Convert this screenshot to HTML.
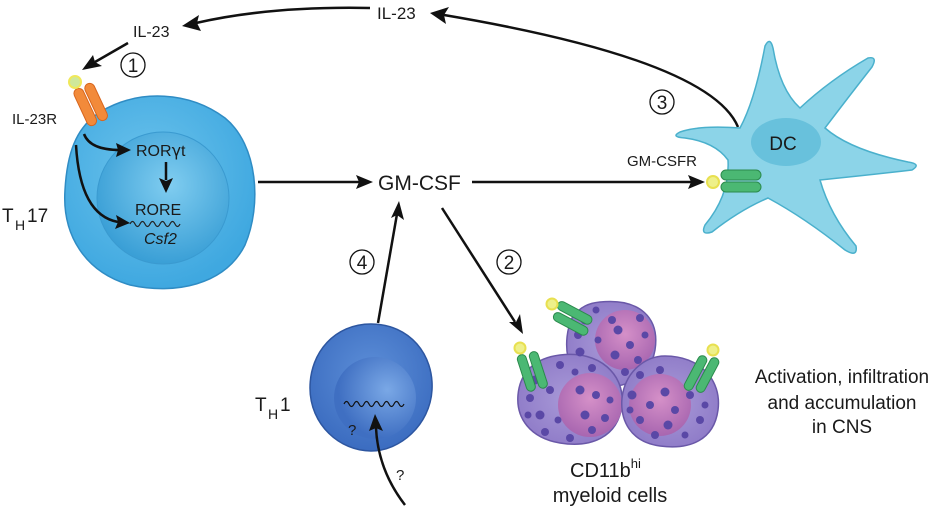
<!DOCTYPE html>
<html><head><meta charset="utf-8"><style>
body{margin:0;background:#fff}
svg{display:block}
text{font-family:"Liberation Sans",Arial,sans-serif;fill:#1a1a1a}
</style></head><body>
<svg width="946" height="510" viewBox="0 0 946 510" xmlns="http://www.w3.org/2000/svg">
<defs>
<radialGradient id="th17" cx="0.45" cy="0.4" r="0.6"><stop offset="0" stop-color="#6cc3ec"/><stop offset="1" stop-color="#3fa8e0"/></radialGradient>
<radialGradient id="th17n" cx="0.55" cy="0.4" r="0.6"><stop offset="0" stop-color="#80cdf0"/><stop offset="1" stop-color="#3a9fd6"/></radialGradient>
<radialGradient id="th1" cx="0.5" cy="0.4" r="0.6"><stop offset="0" stop-color="#5d8fd8"/><stop offset="1" stop-color="#3b6cc0"/></radialGradient>
<radialGradient id="th1n" cx="0.65" cy="0.4" r="0.6"><stop offset="0" stop-color="#7aa8e6"/><stop offset="1" stop-color="#3f6fc2"/></radialGradient>
<radialGradient id="my" cx="0.5" cy="0.5" r="0.6"><stop offset="0" stop-color="#a99ad8"/><stop offset="1" stop-color="#8c78c6"/></radialGradient>
<radialGradient id="myn" cx="0.5" cy="0.4" r="0.6"><stop offset="0" stop-color="#d590c8"/><stop offset="1" stop-color="#a866b0"/></radialGradient>
</defs>

<!-- TH17 cell -->
<path d="M100,112 C140,88 190,92 225,118 C258,145 262,205 245,245 C225,285 175,295 130,285 C85,272 62,235 65,190 C67,155 75,128 100,112Z" fill="url(#th17)" stroke="#2f8cc4" stroke-width="1.5"/>
<circle cx="163" cy="198" r="66" fill="url(#th17n)" stroke="#3a9ad0" stroke-width="1"/>
<g transform="rotate(-25 92 105)">
<rect x="80" y="84" width="10" height="40" rx="5" fill="#f28a3a" stroke="#d8651d"/>
<rect x="92" y="84" width="10" height="40" rx="5" fill="#f28a3a" stroke="#d8651d"/>
</g>
<circle cx="75" cy="82" r="6" fill="#cfe89a" stroke="#f0e85a" stroke-width="2"/>
<text x="12" y="124" font-size="15">IL-23R</text>
<text x="2" y="222" font-size="19">T</text><text x="15" y="230" font-size="14">H</text><text x="27" y="222" font-size="19">17</text>
<text x="136" y="156" font-size="16">ROR<tspan font-family="DejaVu Sans">γ</tspan>t</text>
<text x="135" y="215" font-size="16">RORE</text>
<path d="M130,224 q2.5,-5 5,0 q2.5,5 5,0 q2.5,-5 5,0 q2.5,5 5,0 q2.5,-5 5,0 q2.5,5 5,0 q2.5,-5 5,0 q2.5,5 5,0 q2.5,-5 5,0 q2.5,5 5,0" fill="none" stroke="#222" stroke-width="1.2"/>
<text x="144" y="244" font-size="16" font-style="italic">Csf2</text>
<path d="M84,134 Q90,150 120,150" fill="none" stroke="#111" stroke-width="2.5"/>
<path d="M131,150 L116,143 L118,150 L116,157Z" fill="#111"/>
<path d="M76,145 Q80,215 118,222" fill="none" stroke="#111" stroke-width="2.5"/>
<path d="M130,223 L116,215 L118,222 L115,229Z" fill="#111"/>
<line x1="166" y1="162" x2="166" y2="180" stroke="#111" stroke-width="2.5"/>
<path d="M166,193 L159,178 L166,181 L173,178Z" fill="#111"/>

<!-- top IL-23 arrows -->
<text x="377" y="19" font-size="17">IL-23</text>
<text x="133" y="37" font-size="16">IL-23</text>
<path d="M370,8 Q270,6 196,23" fill="none" stroke="#111" stroke-width="2.5"/>
<path d="M182,26 L199,15 L197,23 L201,31Z" fill="#111"/>
<path d="M738,127 Q710,60 444,15" fill="none" stroke="#111" stroke-width="2.5"/>
<path d="M430,13 L449,7 L444,15 L446,24Z" fill="#111"/>
<line x1="128" y1="43" x2="95" y2="62" stroke="#111" stroke-width="2.5"/>
<path d="M82,70 L93,55 L95,62 L102,66Z" fill="#111"/>
<circle cx="133" cy="65" r="12" fill="none" stroke="#111" stroke-width="1.3"/><text x="133" y="72" font-size="19" text-anchor="middle">1</text>

<!-- GM-CSF arrows -->
<line x1="258" y1="182" x2="360" y2="182" stroke="#111" stroke-width="2.5"/>
<path d="M373,182 L356,175 L359,182 L356,189Z" fill="#111"/>
<text x="378" y="190" font-size="21">GM-CSF</text>
<line x1="472" y1="182" x2="692" y2="182" stroke="#111" stroke-width="2.5"/>
<path d="M705,182 L688,175 L691,182 L688,189Z" fill="#111"/>
<line x1="442" y1="208" x2="515" y2="322" stroke="#111" stroke-width="2.5"/>
<path d="M523,334 L509,322 L516,322 L520,314Z" fill="#111"/>
<circle cx="509" cy="262" r="12" fill="none" stroke="#111" stroke-width="1.3"/><text x="509" y="269" font-size="19" text-anchor="middle">2</text>
<line x1="378" y1="323" x2="397" y2="214" stroke="#111" stroke-width="2.5"/>
<path d="M399,201 L391,218 L397,215 L404,220Z" fill="#111"/>
<circle cx="362" cy="262" r="12" fill="none" stroke="#111" stroke-width="1.3"/><text x="362" y="269" font-size="19" text-anchor="middle">4</text>

<!-- DC -->
<path d="M740,128 Q700,125 680,132 Q670,137 685,138 Q715,142 728,160 Q730,195 705,225 Q700,236 712,232 Q740,210 768,198 Q805,218 845,250 Q858,258 856,246 Q830,215 820,180 Q870,175 912,170 Q922,164 908,162 Q850,150 825,128 Q850,95 872,67 Q878,56 868,58 Q830,80 800,108 Q780,90 773,48 Q770,36 765,46 Q755,100 740,128Z" fill="#8cd4e8" stroke="#4ab0cc" stroke-width="1.5"/>
<ellipse cx="786" cy="142" rx="35" ry="24" fill="#5fbbd8" opacity="0.8"/>
<text x="783" y="150" font-size="19" text-anchor="middle">DC</text>
<rect x="721" y="170" width="40" height="10" rx="5" fill="#4bb873" stroke="#2b8a4c"/>
<rect x="721" y="182" width="40" height="10" rx="5" fill="#4bb873" stroke="#2b8a4c"/>
<circle cx="713" cy="182" r="6" fill="#eef08a" stroke="#e8e050" stroke-width="2"/>
<text x="627" y="166" font-size="15">GM-CSFR</text>
<circle cx="662" cy="102" r="12" fill="none" stroke="#111" stroke-width="1.3"/><text x="662" y="109" font-size="19" text-anchor="middle">3</text>

<!-- TH1 -->
<path d="M371,324 C410,324 434,355 432,390 C430,425 400,451 371,451 C340,451 310,425 310,388 C310,352 335,324 371,324Z" fill="url(#th1)" stroke="#2d56a0" stroke-width="1.5"/>
<circle cx="375" cy="398" r="41" fill="url(#th1n)"/>
<path d="M344,404 q2.5,-5 5,0 q2.5,5 5,0 q2.5,-5 5,0 q2.5,5 5,0 q2.5,-5 5,0 q2.5,5 5,0 q2.5,-5 5,0 q2.5,5 5,0 q2.5,-5 5,0 q2.5,5 5,0 q2.5,-5 5,0 q2.5,5 5,0" fill="none" stroke="#111" stroke-width="1.2"/>
<text x="348" y="435" font-size="15">?</text>
<text x="255" y="411" font-size="19">T</text><text x="268" y="419" font-size="14">H</text><text x="280" y="411" font-size="19">1</text>
<path d="M405,505 Q378,470 376,428" fill="none" stroke="#111" stroke-width="2.5"/>
<path d="M375,414 L369,431 L376,428 L383,431Z" fill="#111"/>
<text x="396" y="480" font-size="15">?</text>

<!-- myeloid cells -->
<g stroke="#6a58a8" stroke-width="1.5">
<path d="M600,302 C640,298 660,318 655,350 C650,380 620,392 590,385 C565,378 562,340 572,318 C580,306 590,303 600,302Z" fill="url(#my)"/>
<circle cx="625" cy="340" r="30" fill="url(#myn)" stroke="none"/>
<path d="M560,355 C600,350 625,375 622,405 C618,438 590,448 560,443 C530,438 516,418 518,395 C520,372 535,358 560,355Z" fill="url(#my)"/>
<circle cx="590" cy="405" r="32" fill="url(#myn)" stroke="none"/>
<path d="M665,356 C700,356 722,380 718,410 C714,440 690,450 660,446 C630,442 620,420 622,398 C625,372 645,356 665,356Z" fill="url(#my)"/>
<circle cx="660" cy="405" r="31" fill="url(#myn)" stroke="none"/>
</g>
<g fill="#5a48a6">
<circle cx="585" cy="320" r="4.5"/><circle cx="578" cy="335" r="4"/><circle cx="580" cy="352" r="4.5"/><circle cx="592" cy="368" r="4"/><circle cx="612" cy="320" r="4"/><circle cx="640" cy="318" r="4"/><circle cx="598" cy="340" r="3.5"/><circle cx="596" cy="310" r="3.5"/>
<circle cx="618" cy="330" r="4.5"/><circle cx="630" cy="345" r="4"/><circle cx="615" cy="355" r="4.5"/><circle cx="638" cy="360" r="4"/><circle cx="625" cy="372" r="4"/><circle cx="645" cy="335" r="3.5"/>
<circle cx="535" cy="380" r="4.5"/><circle cx="530" cy="398" r="4"/><circle cx="540" cy="415" r="4.5"/><circle cx="545" cy="432" r="4"/><circle cx="560" cy="365" r="4"/><circle cx="550" cy="390" r="4"/><circle cx="528" cy="415" r="3.5"/><circle cx="558" cy="420" r="3.5"/><circle cx="575" cy="372" r="3.5"/>
<circle cx="580" cy="390" r="4.5"/><circle cx="596" cy="395" r="4"/><circle cx="585" cy="415" r="4.5"/><circle cx="605" cy="418" r="4"/><circle cx="592" cy="430" r="4"/><circle cx="570" cy="438" r="4"/><circle cx="610" cy="400" r="3.5"/>
<circle cx="640" cy="375" r="4"/><circle cx="632" cy="395" r="4.5"/><circle cx="640" cy="420" r="4"/><circle cx="655" cy="435" r="4"/><circle cx="660" cy="370" r="4"/><circle cx="630" cy="410" r="3.5"/>
<circle cx="665" cy="392" r="4.5"/><circle cx="650" cy="405" r="4"/><circle cx="675" cy="410" r="4"/><circle cx="668" cy="425" r="4.5"/><circle cx="690" cy="395" r="4"/><circle cx="700" cy="420" r="4"/><circle cx="685" cy="435" r="3.5"/><circle cx="705" cy="405" r="3.5"/>
</g>
<g fill="#4bb873" stroke="#2b8a4c">
<rect x="560" y="300" width="38" height="9" rx="4.5" transform="rotate(28 560 300)"/>
<rect x="556" y="311" width="38" height="9" rx="4.5" transform="rotate(28 556 311)"/>
<rect x="516" y="355" width="9" height="38" rx="4.5" transform="rotate(-18 520 355)"/>
<rect x="528" y="352" width="9" height="38" rx="4.5" transform="rotate(-18 532 352)"/>
<rect x="700" y="356" width="9" height="38" rx="4.5" transform="rotate(28 704 356)"/>
<rect x="712" y="358" width="9" height="38" rx="4.5" transform="rotate(28 716 358)"/>
</g>
<g fill="#eef08a" stroke="#e8e050" stroke-width="2">
<circle cx="552" cy="304" r="5.5"/><circle cx="520" cy="348" r="5.5"/><circle cx="713" cy="350" r="5.5"/>
</g>
<text x="570" y="477" font-size="20">CD11b<tspan font-size="13" dy="-9">hi</tspan></text>
<text x="610" y="502" font-size="20" text-anchor="middle">myeloid cells</text>
<text x="842" y="383" font-size="19" text-anchor="middle">Activation, infiltration</text>
<text x="842" y="409" font-size="19" text-anchor="middle">and accumulation</text>
<text x="842" y="433" font-size="19" text-anchor="middle">in CNS</text>
</svg>
</body></html>
